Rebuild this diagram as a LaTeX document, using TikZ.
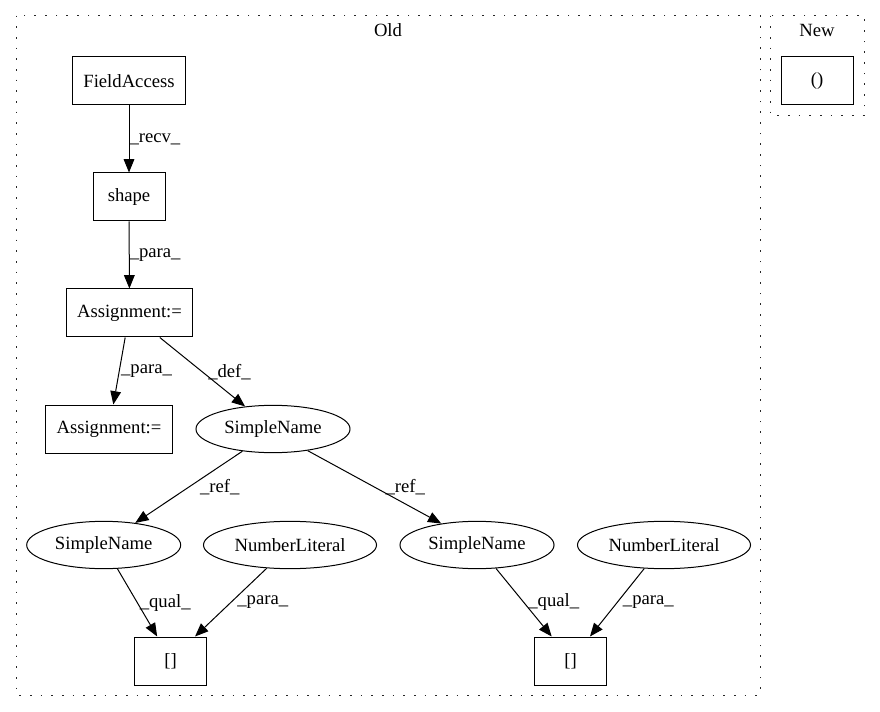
\documentclass[tikz,border=0pt]{standalone}
\usepackage{fontspec}
\setmainfont{Liberation Serif}
\usetikzlibrary{arrows.meta,positioning,shapes.geometric}
\newcommand{\gvfont}{\fontsize{14}{16}\selectfont}

\begin{document}
\begin{tikzpicture}[
  x=0.75pt, y=-0.75pt,
  box/.style={rectangle, draw, line width=0.75pt, minimum width=54pt, minimum height=36pt, inner xsep=8pt, font=\gvfont},
  oval/.style={ellipse, draw, line width=0.75pt, minimum height=35.5pt, inner xsep=4.3pt, inner ysep=0pt, font=\gvfont},
  arr/.style={-{Triangle[length=10pt, width=8pt]}, line width=0.75pt},
  lbl/.style={right, inner xsep=2pt, font=\gvfont},
  cluster/.style={draw=black!85, line width=0.75pt, dash pattern=on 1.2pt off 6.8pt}
]
\useasboundingbox (0,0) rectangle (880,712);

% Clusters
\draw[cluster] (16,15.7) rectangle (760,695);
\draw[cluster] (770.7,15.7) rectangle (864,115.7);
\node[font=\gvfont] (oldlbl) at (388,30) {Old};
\node[font=\gvfont] (newlbl) at (817,30) {New};

% New
\node[box] (call) at (817,81) {()};

% Old: chain
\node[box] (fa) at (129,81) {FieldAccess};
\node[box] (shp) at (129,197) {shape};
\node[box] (asg) at (129.5,313) {Assignment:=};
\draw[arr] (fa) -- node[lbl, inner xsep=0pt] {\_recv\_} (shp);
\draw[arr] (shp) -- node[lbl, inner xsep=0pt] {\_para\_} (asg);

% Old: second row
\node[box] (asg2) at (109,429) {Assignment:=};
\node[oval] (sn) at (273,429) {SimpleName};
\draw[arr] (asg) -- node[lbl, inner xsep=1pt] {\_para\_} (asg2);
\draw[arr] (asg) -- node[lbl, inner xsep=4pt] {\_def\_} (sn);

% Old: third row
\node[oval] (snl) at (103.7,545) {SimpleName};
\node[oval] (nll) at (290,545) {NumberLiteral};
\node[oval] (snr) at (477,545) {SimpleName};
\node[oval] (nlr) at (664,545) {NumberLiteral};
\draw[arr] (sn.216) -- node[lbl, inner xsep=8pt] {\_ref\_} (snl.35);
\draw[arr] (sn.328) -- node[lbl, inner xsep=8pt] {\_ref\_} (snr.149);

% Old: bottom
\node[box] (bl) at (170.5,661) {[]};
\node[box] (br) at (570.5,661) {[]};
\draw[arr] (snl.300) -- node[lbl, inner xsep=1.5pt] {\_qual\_} ([xshift=-10pt]bl.north);
\draw[arr] (nll.225) -- node[lbl, inner xsep=4.5pt] {\_para\_} ([xshift=18.4pt]bl.north);
\draw[arr] (snr.309) -- node[lbl, inner xsep=3pt] {\_qual\_} ([xshift=-14.1pt]br.north);
\draw[arr] (nlr.230) -- node[lbl, inner xsep=4pt] {\_para\_} ([xshift=14.6pt]br.north);

\end{tikzpicture}
\end{document}
